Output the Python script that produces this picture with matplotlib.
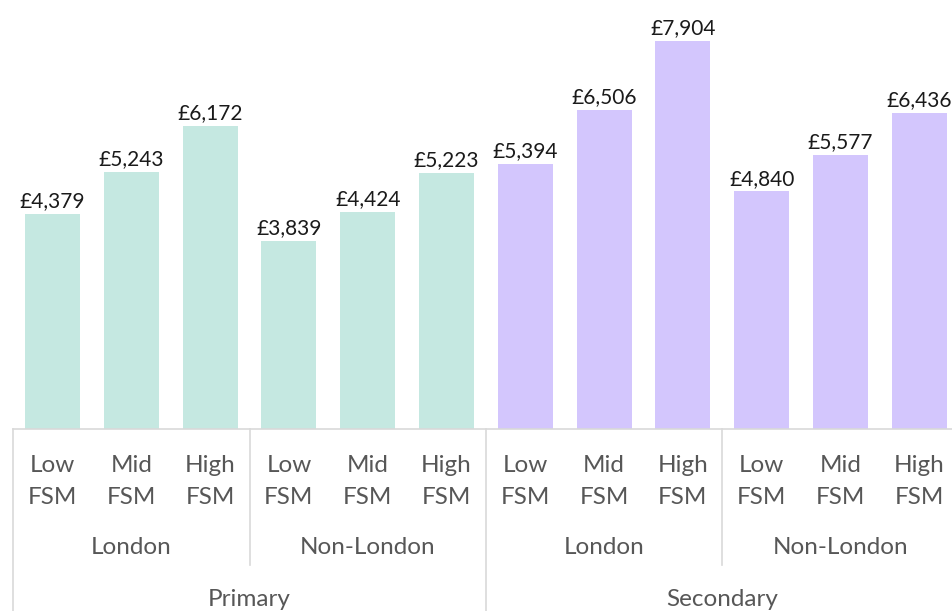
import matplotlib

matplotlib.use("Agg")
import matplotlib.pyplot as plt  # noqa: E402
from matplotlib import transforms  # noqa: E402
from matplotlib.lines import Line2D  # noqa: E402

# Dados (custo por aluno, £)
PHASES = ["Primary", "Secondary"]
REGIONS = ["London", "Non-London"]
FSM_BANDS = ["Low\nFSM", "Mid\nFSM", "High\nFSM"]
PRIMARY_VALUES = [4379, 5243, 6172, 3839, 4424, 5223]
SECONDARY_VALUES = [5394, 6506, 7904, 4840, 5577, 6436]

MINT = "#c5e8e1"
LAVENDER = "#d3c6fd"
INK = "#1a1a1a"
AXIS_TXT = "#575757"
RULE = "#d9d9d9"

W, H = 952, 611
plt.rcParams["font.family"] = ["Lato", "DejaVu Sans"]

fig = plt.figure(figsize=(W / 100, H / 100), dpi=100)
base_px = 429
ax = fig.add_axes([0, (H - base_px) / H, 1, base_px / H])

values = PRIMARY_VALUES + SECONDARY_VALUES
colors = [MINT] * len(PRIMARY_VALUES) + [LAVENDER] * len(SECONDARY_VALUES)
xs = list(range(len(values)))
ax.bar(xs, values, width=0.70, color=colors, zorder=2)
for x, v in zip(xs, values):
    ax.annotate(f"£{v:,}", (x, v), xytext=(0, 2), textcoords="offset points",
                ha="center", va="bottom", fontsize=15, color=INK)

slot = 78.8
x0_px = 52.5
ax.set_xlim(-x0_px / slot, (W - x0_px) / slot)
ax.set_ylim(0, 7904 * base_px / 388)
ax.axis("off")

tr = transforms.blended_transform_factory(ax.transData, fig.transFigure)


def fy(px):
    return 1 - px / H


# linha de base
fig.add_artist(Line2D([-0.5, 12], [fy(base_px), fy(base_px)], transform=tr,
                      color=RULE, linewidth=1.2))

# rótulos hierárquicos
LBL = 17.5
for i, x in enumerate(xs):
    top, bottom = FSM_BANDS[i % 3].split("\n")
    fig.text(x, fy(466), top, transform=tr, ha="center", va="center",
             fontsize=LBL, color=AXIS_TXT)
    fig.text(x, fy(497), bottom, transform=tr, ha="center", va="center",
             fontsize=LBL, color=AXIS_TXT)

for g in range(4):
    cx = g * 3 + 1
    fig.text(cx, fy(548), REGIONS[g % 2], transform=tr, ha="center",
             va="center", fontsize=LBL, color=AXIS_TXT)
    sep = g * 3 - 0.5
    y_end = H if g % 2 == 0 else 565
    fig.add_artist(Line2D([sep, sep], [fy(base_px), fy(y_end)], transform=tr,
                          color=RULE, linewidth=1.2))

for p, phase in enumerate(PHASES):
    cx = p * 6 + 2.5
    fig.text(cx, fy(600), phase, transform=tr, ha="center", va="center",
             fontsize=LBL, color=AXIS_TXT)

fig.savefig("out.png", dpi=100, facecolor="white")
